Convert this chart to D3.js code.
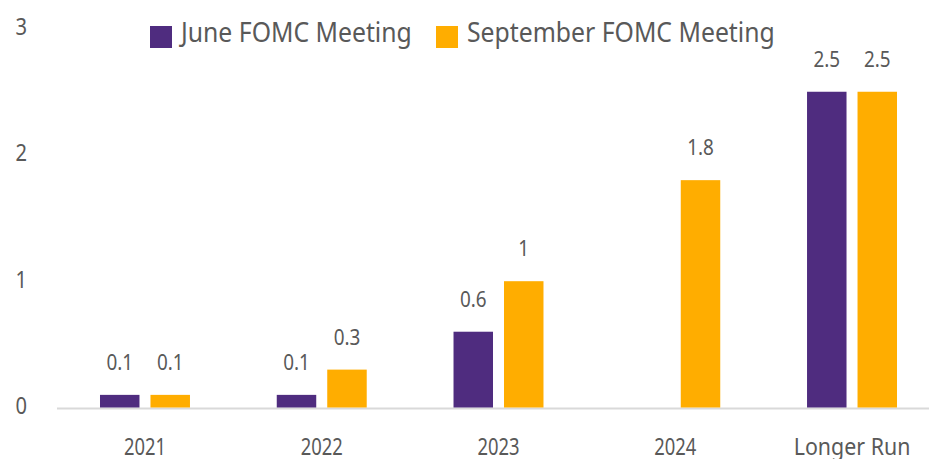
<!DOCTYPE html>
<html>
<head>
<meta charset="utf-8">
<script src="https://cdn.jsdelivr.net/npm/d3@7"></script>
<style>
  body { margin: 0; background: #fff; }
  text { font-family: "Noto Sans", sans-serif; fill: #595959; }
</style>
</head>
<body>
<script>
// fed dot plot median, two meetings
const categories = ["2021", "2022", "2023", "2024", "Longer Run"];
const seriesNames = ["June FOMC Meeting", "September FOMC Meeting"];
const juneValues = [0.1, 0.1, 0.6, null, 2.5];
const septValues = [0.1, 0.3, 1, 1.8, 2.5];
const yTicks = [0, 1, 2, 3];

const colors = ["#4f2c7f", "#ffad00"];
const width = 929, height = 459;
const squeeze = 0.88; // the source font is narrower than Noto

const svg = d3.select("body").append("svg")
  .attr("width", width)
  .attr("height", height);

const x = d3.scaleBand()
  .domain(categories)
  .range([56.6, 940.4])
  .paddingInner(0.491)
  .paddingOuter(0.2455);

const xs = d3.scaleBand()
  .domain(seriesNames)
  .range([0, x.bandwidth()])
  .paddingInner(0.218);

const y = d3.scaleLinear()
  .domain([0, 3])
  .range([407.5, 28.6]);

const tf = (px, py, s) => "translate(" + px + "," + py + ") scale(" + (s || squeeze) + ",1)";

// baseline
svg.append("line")
  .attr("x1", 57).attr("x2", width)
  .attr("y1", y(0) + 1).attr("y2", y(0) + 1)
  .attr("stroke", "#d9d9d9")
  .attr("stroke-width", 2);

// y tick labels
svg.selectAll(".ytick")
  .data(yTicks)
  .enter().append("text")
  .attr("class", "ytick")
  .attr("transform", d => tf(27, y(d) + 6.5, 0.84))
  .attr("text-anchor", "end")
  .style("font-size", "24px")
  .text(d => d);

// x labels
svg.selectAll(".xlab")
  .data(categories)
  .enter().append("text")
  .attr("class", "xlab")
  .attr("transform", d => tf(x(d) + x.bandwidth() / 2, 455, isNaN(+d) ? 0.93 : 0.8))
  .attr("text-anchor", "middle")
  .style("font-size", "23px")
  .text(d => d);

const rows = categories.map((c, i) => ({
  cat: c,
  vals: [juneValues[i], septValues[i]]
}));

const groups = svg.selectAll(".grp")
  .data(rows)
  .enter().append("g")
  .attr("class", "grp")
  .attr("transform", d => "translate(" + x(d.cat) + ",0)");

const cells = groups.selectAll(".cell")
  .data(d => d.vals.map((v, j) => ({ name: seriesNames[j], v: v, j: j })).filter(e => e.v != null))
  .enter();

cells.append("rect")
  .attr("x", d => xs(d.name))
  .attr("y", d => y(d.v))
  .attr("width", xs.bandwidth())
  .attr("height", d => y(0) - y(d.v))
  .attr("fill", d => colors[d.j]);

cells.append("text")
  .attr("transform", d => tf(xs(d.name) + xs.bandwidth() / 2, y(d.v) - 25, 0.9))
  .attr("text-anchor", "middle")
  .style("font-size", "21px")
  .text(d => d.v);

// legend
const legendX = [150, 436];
const leg = svg.selectAll(".leg")
  .data(seriesNames)
  .enter().append("g")
  .attr("class", "leg")
  .attr("transform", (d, i) => "translate(" + legendX[i] + ",26)");
leg.append("rect")
  .attr("width", 22).attr("height", 22)
  .attr("fill", (d, i) => colors[i]);
leg.append("text")
  .attr("transform", tf(31, 16, 0.885))
  .style("font-size", "28px")
  .text(d => d);
</script>
</body>
</html>
